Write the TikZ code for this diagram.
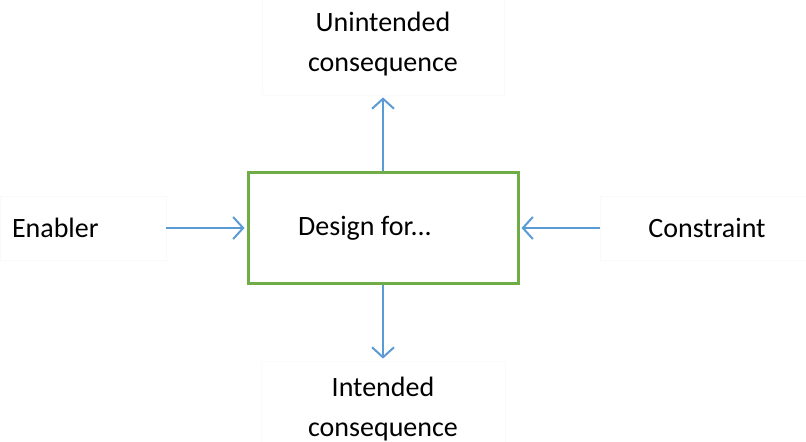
\documentclass[tikz,border=0pt]{standalone}
\usepackage{fontspec}
\setmainfont{Carlito}
\usetikzlibrary{arrows.meta,positioning}
\definecolor{boxgreen}{RGB}{112,173,71}
\definecolor{arrowblue}{RGB}{91,155,213}

\begin{document}
\begin{tikzpicture}[x=0.5pt,y=0.5pt,shorten >=1pt,
    every node/.style={font=\fontsize{14}{20}\selectfont, align=center},
    designbox/.style={draw=boxgreen, line width=1.5pt, minimum width=135pt, minimum height=55.5pt},
    textbox/.style={draw=black!2, line width=0.4pt},
    flow/.style={draw=arrowblue, line width=1pt, -{Straight Barb[length=5pt,width=11pt]}}]
    \useasboundingbox (0,0) rectangle (806,441);
    \node[designbox] (design) at (383,213) {Design for...\hspace*{18pt}};
    \node[textbox, minimum width=83pt, minimum height=32pt, text width=71pt, align=left, inner xsep=6pt] (enabler) at (83,213) {Enabler};
    \node[textbox, minimum width=107pt, minimum height=32pt] (constraint) at (707,213) {Constraint};
    \node[textbox, minimum width=121pt, minimum height=51pt] (unintended) at (383,397) {Unintended\\consequence};
    \node[textbox, minimum width=122pt, minimum height=48pt] (intended) at (383,32) {Intended\\consequence};
    \path[flow]
        (enabler) edge (design)
        (constraint) edge (design)
        (design)
            edge (unintended)
            edge (intended);
\end{tikzpicture}
\end{document}
